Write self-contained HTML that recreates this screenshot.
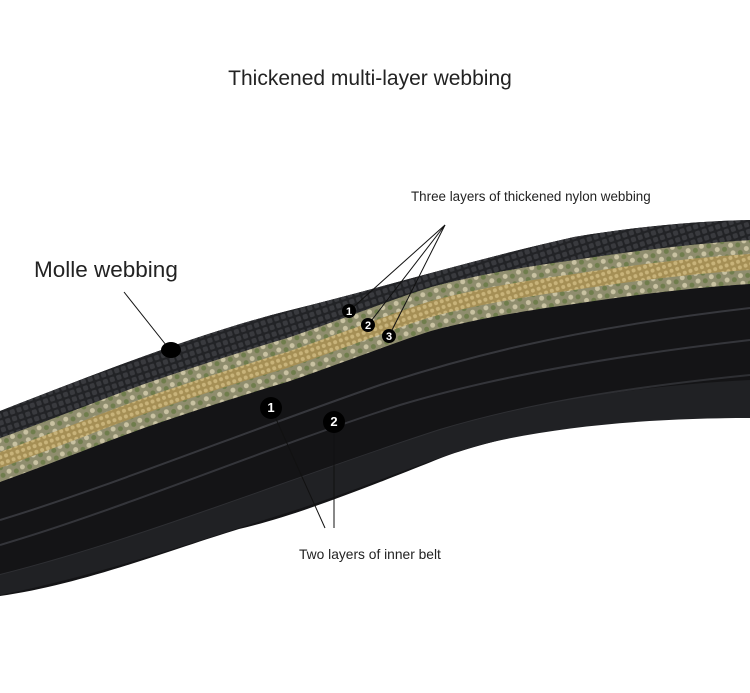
<!DOCTYPE html>
<html><head><meta charset="utf-8"><style>
html,body{margin:0;padding:0;background:#fff;}
svg{display:block;}
text{font-family:"Liberation Sans",sans-serif;}
</style></head><body>
<svg width="750" height="693" viewBox="0 0 750 693" xmlns="http://www.w3.org/2000/svg">
<defs>
<pattern id="weave" width="7" height="7" patternUnits="userSpaceOnUse" patternTransform="rotate(-18)">
<rect width="7" height="7" fill="#222326"/>
<rect x="1" y="1" width="5" height="5" rx="1.5" fill="#393a3e"/>
</pattern>
<pattern id="tan" width="6" height="6" patternUnits="userSpaceOnUse" patternTransform="rotate(-18)">
<rect width="6" height="6" fill="#a58f55"/>
<circle cx="3" cy="3" r="2" fill="#c8b37a"/>
</pattern>
<pattern id="camo" width="14" height="8" patternUnits="userSpaceOnUse" patternTransform="rotate(-18)">
<rect width="14" height="8" fill="#8f8d6e"/>
<circle cx="3" cy="3" r="2.5" fill="#c9c2a2"/>
<circle cx="10" cy="5" r="2.5" fill="#6f7d4c"/>
</pattern>
<path id="mb" d="M0,438 C50,420 100,400 144,384 C190,368 240,352 287,338 C340,320 390,300 431,287 C480,274 530,266 574,260 C640,250 700,243 750,240"/>
</defs>
<text x="370" y="85" font-size="21" text-anchor="middle" fill="#222">Thickened multi-layer webbing</text>
<!-- belt full -->
<path d="M0,411 C100,372 200,333 287,311 C380,288 480,258 574,237 C640,226 700,221 750,220 L750,418 C660,418 600,420 574,425 C500,438 460,450 431,462 C380,482 300,515 239,529 C170,550 80,585 0,596 Z" fill="#141416"/>
<!-- inner texture lines -->
<g fill="none" stroke-width="2">
<path d="M0,520 C100,490 250,430 380,385 C450,362 560,330 750,308" stroke="#36373c"/>
<path d="M0,545 C120,510 260,450 400,405 C500,375 620,355 750,340" stroke="#34353a"/>
<path d="M0,575 C140,540 300,475 440,430 C540,400 650,385 750,375" stroke="#2e2f33"/>
</g>
<path d="M0,595 C100,575 200,540 280,515 C360,490 420,462 480,445 C560,425 660,418 750,418 L750,380 C650,385 540,400 440,430 C300,475 140,540 0,575 Z" fill="#202124"/>
<!-- camo band -->
<path d="M0,438 C50,420 100,400 144,384 C190,368 240,352 287,338 C340,320 390,300 431,287 C480,274 530,266 574,260 C640,250 700,243 750,240 L750,284 C700,287 640,294 574,304 C530,310 480,318 431,331 C390,344 340,364 287,382 C240,396 190,412 144,428 C100,444 50,464 0,482 Z" fill="url(#camo)"/>
<!-- tan band -->
<path d="M0,452 C50,434 100,414 144,398 C190,382 240,366 287,352 C340,334 390,314 431,301 C480,288 530,280 574,274 C640,264 700,257 750,254 L750,270 C700,273 640,280 574,290 C530,296 480,304 431,317 C390,330 340,350 287,368 C240,382 190,398 144,414 C100,430 50,450 0,468 Z" fill="url(#tan)"/>
<!-- molle -->
<path d="M0,411 C100,372 200,333 287,311 C380,288 480,258 574,237 C640,226 700,221 750,220 L750,240 C700,243 640,250 574,260 C530,266 480,274 431,287 C390,300 340,320 287,338 C240,352 190,368 144,384 C100,400 50,420 0,438 Z" fill="url(#weave)"/>
<!-- annotations -->
<text x="411" y="201" font-size="13.4" fill="#222">Three layers of thickened nylon webbing</text>
<g stroke="#111" stroke-width="1">
<line x1="445" y1="225" x2="349" y2="311"/>
<line x1="445" y1="225" x2="368" y2="325"/>
<line x1="445" y1="225" x2="389" y2="336"/>
<line x1="124" y1="292" x2="170" y2="350"/>
<line x1="272" y1="410" x2="325" y2="528"/>
<line x1="334" y1="424" x2="334" y2="528"/>
</g>
<text x="34" y="277" font-size="22.5" fill="#222">Molle webbing</text>
<ellipse cx="171" cy="350" rx="10" ry="8" fill="#000"/>
<g font-size="11" font-weight="bold" fill="#fff" text-anchor="middle">
<circle cx="349" cy="311" r="7" fill="#000"/><text x="349" y="315">1</text>
<circle cx="368" cy="325" r="7" fill="#000"/><text x="368" y="329">2</text>
<circle cx="389" cy="336" r="7" fill="#000"/><text x="389" y="340">3</text>
<circle cx="271" cy="408" r="11" fill="#000"/><text x="271" y="412" font-size="13">1</text>
<circle cx="334" cy="422" r="11" fill="#000"/><text x="334" y="426" font-size="13">2</text>
</g>
<text x="299" y="559" font-size="13.8" fill="#222">Two layers of inner belt</text>
</svg>
</body></html>
